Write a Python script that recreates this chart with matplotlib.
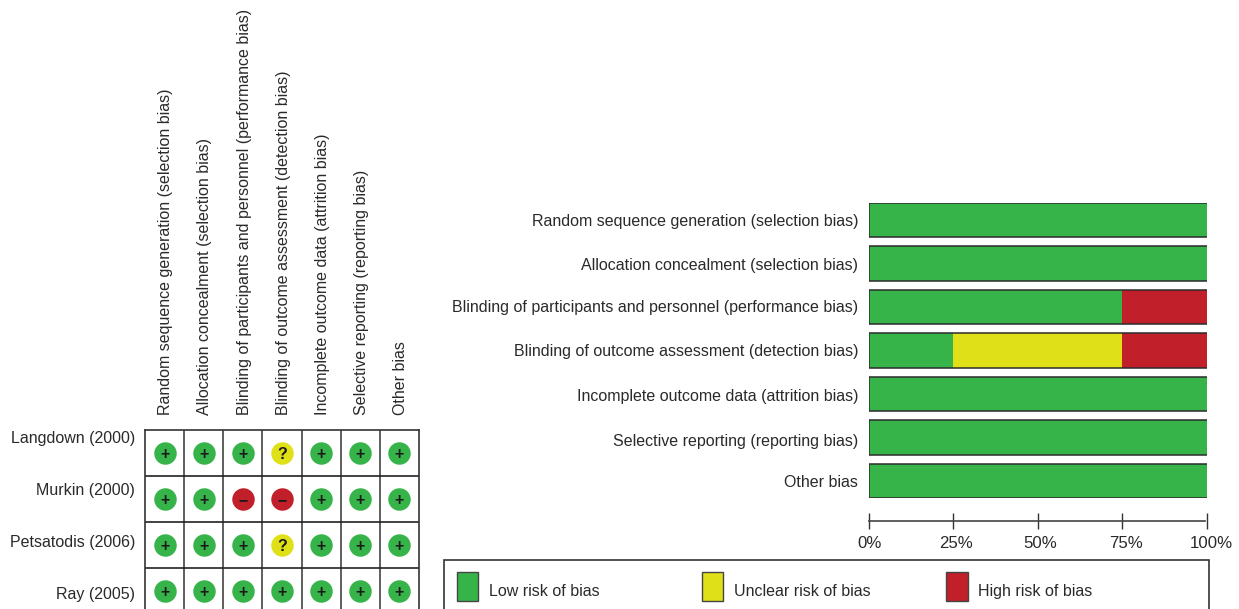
import matplotlib
matplotlib.use("Agg")
import matplotlib.pyplot as plt
from matplotlib.patches import Rectangle
from matplotlib.transforms import ScaledTranslation
import numpy as np

plt.rcParams['font.family'] = ['Liberation Sans', 'DejaVu Sans']

domains = ["Random sequence generation (selection bias)",
           "Allocation concealment (selection bias)",
           "Blinding of participants and personnel (performance bias)",
           "Blinding of outcome assessment (detection bias)",
           "Incomplete outcome data (attrition bias)",
           "Selective reporting (reporting bias)",
           "Other bias"]
bar_labels = ["Random sequence generation (selection bias)",
              "Allocation concealment (selection bias)",
              "Blinding of participants and personnel (performance bias)",
              "Blinding of outcome assessment (detection bias)",
              "Incomplete outcome data (attrition bias)",
              "Selective reporting (reporting bias)",
              "Other bias"]
studies = ["Langdown (2000)", "Murkin (2000)", "Petsatodis (2006)", "Ray (2005)"]
langdown = ["+", "+", "+", "?", "+", "+", "+"]
murkin = ["+", "+", "-", "-", "+", "+", "+"]
petsatodis = ["+", "+", "+", "?", "+", "+", "+"]
ray = ["+", "+", "+", "+", "+", "+", "+"]
low = [100, 100, 75, 25, 100, 100, 100]
unclear = [0, 0, 0, 50, 0, 0, 0]
high = [0, 0, 25, 25, 0, 0, 0]
ticks = [0, 25, 50, 75, 100]
tick_labels = ["0%", "25%", "50%", "75%", "100%"]
legend_labels = ["Low risk of bias", "Unclear risk of bias", "High risk of bias"]

GREEN, YELLOW, RED = "#36B44A", "#E0E019", "#C1202A"
TXT = "#2a2a2a"
FS = 11.5
W, H = 1239, 609
fig = plt.figure(figsize=(W / 100, H / 100), dpi=100)

def px_axes(x0, y0, x1, y1):
    return fig.add_axes([x0 / W, 1 - y1 / H, (x1 - x0) / W, (y1 - y0) / H])

# ---- study grid
ag = px_axes(145, 430, 419, 614)
ag.set_xlim(0, 7)
ag.set_ylim(4, 0)
ag.set_xticks(np.arange(7) + 0.53)
ag.set_xticklabels(domains, rotation=90, fontsize=FS, color=TXT, ha='center', va='bottom')
ag.xaxis.tick_top()
ag.tick_params(axis='x', length=0, pad=10.6)
ag.set_yticks([])
for v in range(1, 7):
    ag.axvline(v, color="#333333", lw=1.1)
for v in range(1, 4):
    ag.axhline(v, color="#222222", lw=1.2)
for s in ag.spines.values():
    s.set_color("#333333")
    s.set_linewidth(1.2)

fills = {"+": GREEN, "?": YELLOW, "-": RED}
glyphs = {"+": "+", "?": "?", "-": "\u2212"}
for r, row in enumerate([langdown, murkin, petsatodis, ray]):
    for c, j in enumerate(row):
        ag.scatter(c + 0.5, r + 0.5, s=262, color=fills[j], linewidths=0, zorder=3)
        ag.text(c + 0.5, r + 0.535, glyphs[j], ha='center', va='center', fontsize=11.5,
                fontweight='bold', color="#1a1a1a", zorder=4)

label_dy = [14.5, 8.5, 2.5, -3.5]   # pixel lift of each study name above its row centre
for r, name in enumerate(studies):
    ag.annotate(name, xy=(0, r + 0.5), xytext=(-10 * 0.72, label_dy[r] * 0.72),
                textcoords='offset points', ha='right', va='center',
                fontsize=FS, color=TXT, annotation_clip=False)

# ---- summary bars
ab = px_axes(868.5, 203, 1206.5, 498)
y = np.arange(len(bar_labels))
label_shift = [0.0, 0.01, -0.02, 0.0, 0.03, 0.05, 0.0]
bh = 0.785
low_a, unc_a, high_a = map(np.array, (low, unclear, high))
ab.barh(y, low_a, height=bh, color=GREEN, linewidth=0)
ab.barh(y, unc_a, left=low_a, height=bh, color=YELLOW, linewidth=0)
ab.barh(y, high_a, left=low_a + unc_a, height=bh, color=RED, linewidth=0)
total = low_a + unc_a + high_a
ab.hlines(y - bh / 2, 0, total, color="#2b2b2b", lw=1.1)
ab.hlines(y + bh / 2, 0, total, color="#2b2b2b", lw=1.1)
ab.vlines(np.zeros(len(y)), y - bh / 2, y + bh / 2, color="#2b2b2b", lw=1.1)
ab.set_xlim(0, 100)
ab.set_ylim(len(y) - 1 + bh / 2, -bh / 2)
for s in ('top', 'right', 'left'):
    ab.spines[s].set_visible(False)
# moving a spine resets its axis' ticks, so this comes before the tick setup
ab.spines['bottom'].set_position(('outward', 23 * 0.72))
ab.spines['bottom'].set_color("#444444")
ab.spines['bottom'].set_linewidth(1.2)
ab.spines['bottom'].set_bounds(0, 99.7)
ab.set_yticks(y + np.array(label_shift))
ab.set_yticklabels(bar_labels, fontsize=FS, color=TXT)
ab.tick_params(axis='y', length=0, pad=7.4)
ab.set_xticks(ticks)
ab.set_xticklabels(tick_labels, fontsize=12.1, color=TXT)
ab.tick_params(axis='x', direction='inout', length=11.5, width=1.0, color="#333333", pad=5.0)
label_dx = [1, 2.5, 3, 4, 4.5]   # pixels to the right of each tick
for lab, dx in zip(ab.get_xticklabels(), label_dx):
    lab.set_transform(lab.get_transform() + ScaledTranslation(dx / 100, 0, fig.dpi_scale_trans))
ab.patch.set_alpha(0)

# ---- legend
al = px_axes(0, 0, W, H)
al.set_xlim(0, W)
al.set_ylim(H, 0)
al.axis('off')
al.add_patch(Rectangle((443.5, 559.5), 765, 70, fc='white', ec="#333333", lw=1.2))
for x0, col, lab in zip([456.5, 701.5, 946], [GREEN, YELLOW, RED], legend_labels):
    al.add_patch(Rectangle((x0, 572), 21.5, 29, fc=col, ec="#444444", lw=1.0))
    al.text(x0 + 32.5, 591.5, lab, ha='left', va='center', fontsize=FS, color=TXT)
al.set_zorder(-1)

fig.savefig("out.png", dpi=100)
